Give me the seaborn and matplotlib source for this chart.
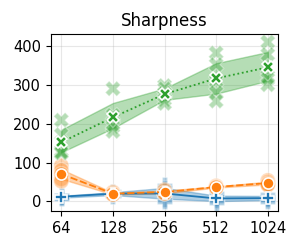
import numpy as np
import pandas as pd
import matplotlib
matplotlib.use("Agg")
import matplotlib.pyplot as plt
import seaborn as sns

# batch sizes on the x axis
batch_sizes = [64, 128, 256, 512, 1024]

# five runs per batch size, one list per method
runs_m1 = [[16, 14, 12, 10, 8],
           [26, 23, 20, 17, 14],
           [42, 35, 20, 5, 0],
           [20, 12, 8, 2, -4],
           [18, 12, 8, 4, 0]]
runs_m2 = [[92, 80, 70, 58, 52],
           [24, 22, 19, 17, 18],
           [30, 27, 22, 20, 21],
           [40, 38, 36, 36, 35],
           [54, 50, 46, 44, 42]]
runs_m3 = [[209, 172, 130, 124, 126],
           [290, 222, 198, 192, 180],
           [298, 290, 278, 262, 252],
           [382, 352, 310, 280, 258],
           [410, 378, 322, 315, 300]]

methods = ["m1", "m2", "m3"]
marker_map = {"m1": "P", "m2": "o", "m3": "X"}
dash_map = {"m1": "", "m2": (4, 1.5), "m3": (1, 1.5)}
colors = {"m1": "tab:blue", "m2": "tab:orange", "m3": "tab:green"}

rows = []
for name, runs in zip(methods, [runs_m1, runs_m2, runs_m3]):
    for bs, vals in zip(batch_sizes, runs):
        for v in vals:
            rows.append({"batch": bs, "value": v, "method": name})
df = pd.DataFrame(rows)

fig = plt.figure(figsize=(3, 2.5), dpi=100)
ax = fig.add_axes([0.17, 0.156, 0.757, 0.708])

# individual runs
sns.scatterplot(data=df, x="batch", y="value", hue="method", style="method",
                markers=marker_map, palette=colors, s=120, alpha=0.35,
                edgecolor="white", linewidth=1, legend=False, ax=ax, zorder=2)

# mean with bootstrapped 95% band
sns.lineplot(data=df, x="batch", y="value", hue="method", style="method",
             markers=marker_map, dashes=dash_map, palette=colors,
             markersize=8, markeredgecolor="white", markeredgewidth=1.2,
             linewidth=1.3, errorbar=("ci", 95), seed=0, legend=False,
             err_kws={"alpha": 0.35}, ax=ax, zorder=3)

ax.set_xscale("log", base=2)
ax.set_xticks(batch_sizes)
ax.set_xticklabels([str(b) for b in batch_sizes])
ax.xaxis.set_minor_locator(matplotlib.ticker.NullLocator())
ax.set_yticks([0, 100, 200, 300, 400])
ax.tick_params(labelsize=10.5)
ax.set_xlabel("")
ax.set_ylabel("")
ax.grid(True, alpha=0.3)
ax.set_axisbelow(True)
ax.set_title("Sharpness", fontsize=12)

fig.savefig("out.png", dpi=100)
